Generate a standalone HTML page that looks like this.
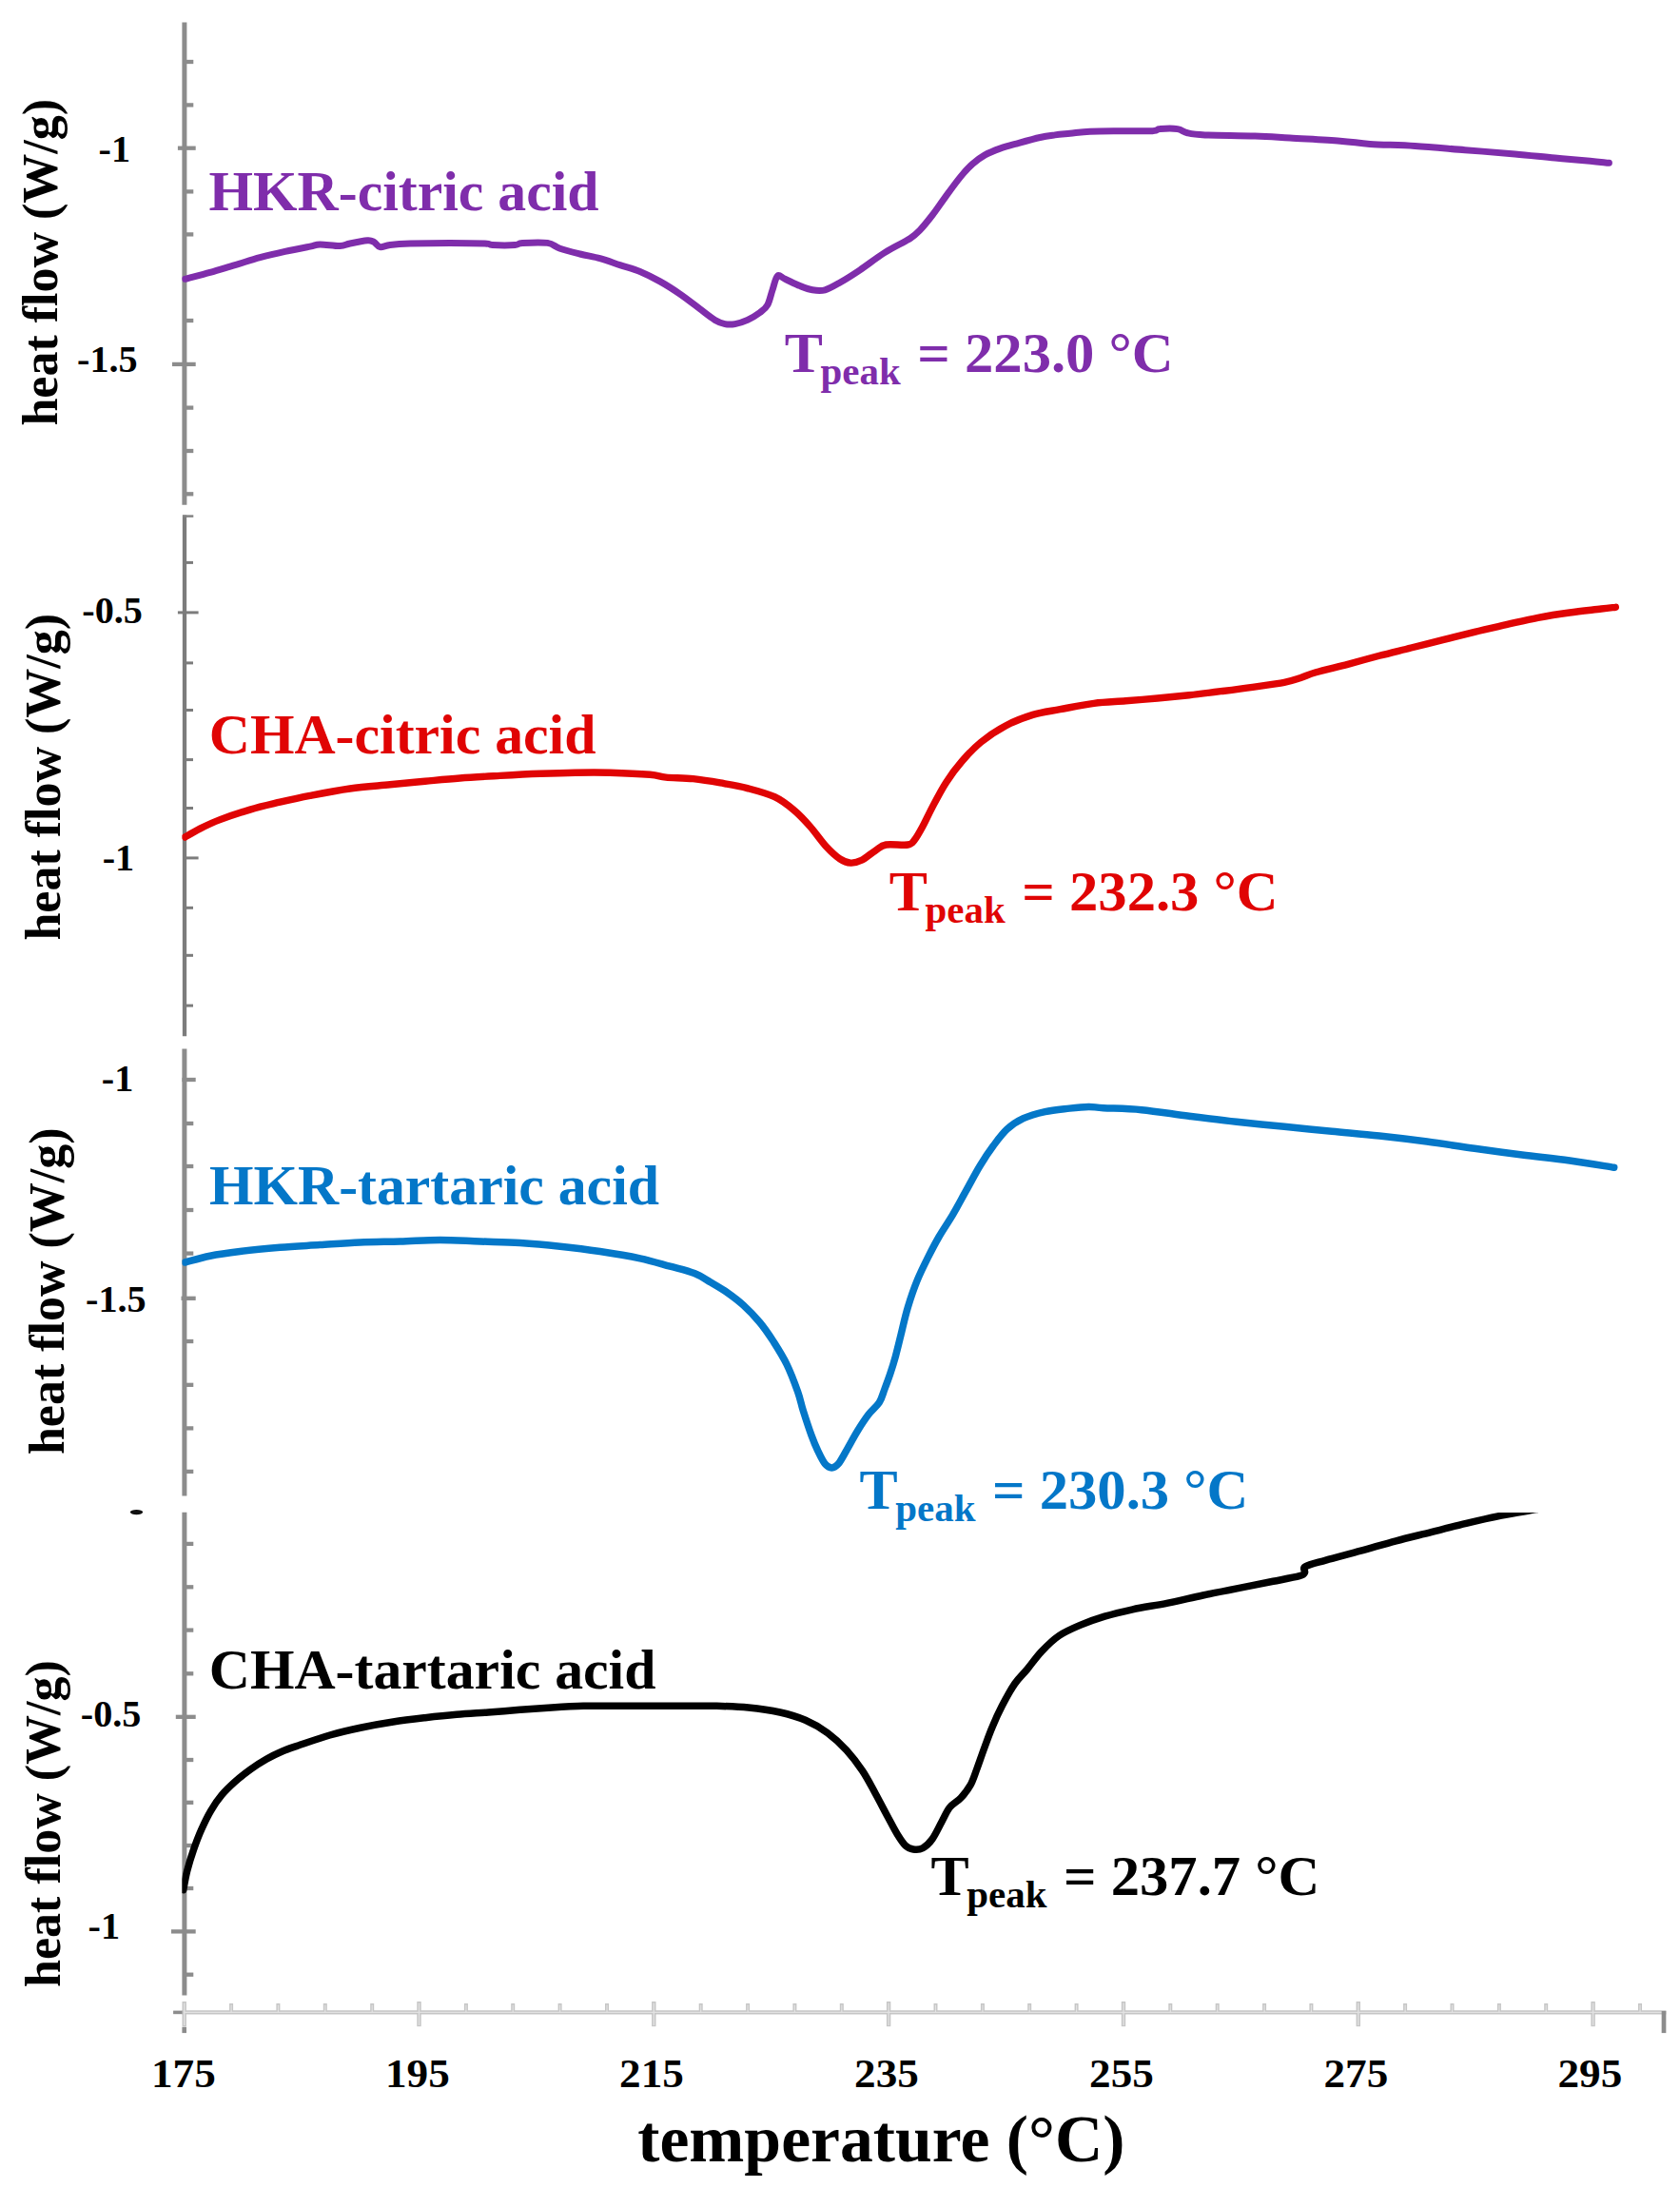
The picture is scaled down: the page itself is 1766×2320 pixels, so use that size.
<!DOCTYPE html>
<html><head><meta charset="utf-8"><title>DSC curves</title>
<style>
html,body{margin:0;padding:0;background:#fff}
svg{display:block}
text{font-family:"Liberation Serif","Times New Roman",serif;font-weight:bold}
.tk{font-size:40.2px}
.xl{font-size:41.5px}
.yl{font-size:52px}
.lb{font-size:58.2px}
.tp{font-size:58.2px}
.sub{font-size:39.6px}
</style></head><body>
<svg width="1766" height="2320" viewBox="0 0 1766 2320">
<rect width="1766" height="2320" fill="#fff"/>
<defs><clipPath id="c4"><rect x="191.4" y="1590" width="1586" height="600"/></clipPath><clipPath id="ca"><rect x="191.4" y="0" width="1586" height="2320"/></clipPath></defs>

<g stroke="#c6c6c6" fill="none">
<line x1="191.4" y1="2115.4" x2="1751.4" y2="2115.4" stroke-width="4.2"/>
<line x1="193.7" y1="2104" x2="193.7" y2="2130.2" stroke-width="4.4"/>
<line x1="243.1" y1="2106" x2="243.1" y2="2115" stroke-width="4"/>
<line x1="292.4" y1="2106" x2="292.4" y2="2115" stroke-width="4"/>
<line x1="341.8" y1="2106" x2="341.8" y2="2115" stroke-width="4"/>
<line x1="391.2" y1="2106" x2="391.2" y2="2115" stroke-width="4"/>
<line x1="440.5" y1="2104" x2="440.5" y2="2130.2" stroke-width="4.4"/>
<line x1="489.9" y1="2106" x2="489.9" y2="2115" stroke-width="4"/>
<line x1="539.2" y1="2106" x2="539.2" y2="2115" stroke-width="4"/>
<line x1="588.6" y1="2106" x2="588.6" y2="2115" stroke-width="4"/>
<line x1="638.0" y1="2106" x2="638.0" y2="2115" stroke-width="4"/>
<line x1="687.3" y1="2104" x2="687.3" y2="2130.2" stroke-width="4.4"/>
<line x1="736.7" y1="2106" x2="736.7" y2="2115" stroke-width="4"/>
<line x1="786.1" y1="2106" x2="786.1" y2="2115" stroke-width="4"/>
<line x1="835.4" y1="2106" x2="835.4" y2="2115" stroke-width="4"/>
<line x1="884.8" y1="2106" x2="884.8" y2="2115" stroke-width="4"/>
<line x1="934.1" y1="2104" x2="934.1" y2="2130.2" stroke-width="4.4"/>
<line x1="983.5" y1="2106" x2="983.5" y2="2115" stroke-width="4"/>
<line x1="1032.9" y1="2106" x2="1032.9" y2="2115" stroke-width="4"/>
<line x1="1082.2" y1="2106" x2="1082.2" y2="2115" stroke-width="4"/>
<line x1="1131.6" y1="2106" x2="1131.6" y2="2115" stroke-width="4"/>
<line x1="1181.0" y1="2104" x2="1181.0" y2="2130.2" stroke-width="4.4"/>
<line x1="1230.3" y1="2106" x2="1230.3" y2="2115" stroke-width="4"/>
<line x1="1279.7" y1="2106" x2="1279.7" y2="2115" stroke-width="4"/>
<line x1="1329.1" y1="2106" x2="1329.1" y2="2115" stroke-width="4"/>
<line x1="1378.4" y1="2106" x2="1378.4" y2="2115" stroke-width="4"/>
<line x1="1427.8" y1="2104" x2="1427.8" y2="2130.2" stroke-width="4.4"/>
<line x1="1477.1" y1="2106" x2="1477.1" y2="2115" stroke-width="4"/>
<line x1="1526.5" y1="2106" x2="1526.5" y2="2115" stroke-width="4"/>
<line x1="1575.9" y1="2106" x2="1575.9" y2="2115" stroke-width="4"/>
<line x1="1625.2" y1="2106" x2="1625.2" y2="2115" stroke-width="4"/>
<line x1="1674.6" y1="2104" x2="1674.6" y2="2130.2" stroke-width="4.4"/>
<line x1="1724.0" y1="2106" x2="1724.0" y2="2115" stroke-width="4"/>
</g>
<g stroke="#e2e2e2" fill="none">
<line x1="193" y1="2115.4" x2="1748" y2="2115.4" stroke-width="1.4"/>
<line x1="193.7" y1="2105.5" x2="193.7" y2="2129" stroke-width="1.4"/>
<line x1="243.1" y1="2107.5" x2="243.1" y2="2115" stroke-width="1.2"/>
<line x1="292.4" y1="2107.5" x2="292.4" y2="2115" stroke-width="1.2"/>
<line x1="341.8" y1="2107.5" x2="341.8" y2="2115" stroke-width="1.2"/>
<line x1="391.2" y1="2107.5" x2="391.2" y2="2115" stroke-width="1.2"/>
<line x1="440.5" y1="2105.5" x2="440.5" y2="2129" stroke-width="1.4"/>
<line x1="489.9" y1="2107.5" x2="489.9" y2="2115" stroke-width="1.2"/>
<line x1="539.2" y1="2107.5" x2="539.2" y2="2115" stroke-width="1.2"/>
<line x1="588.6" y1="2107.5" x2="588.6" y2="2115" stroke-width="1.2"/>
<line x1="638.0" y1="2107.5" x2="638.0" y2="2115" stroke-width="1.2"/>
<line x1="687.3" y1="2105.5" x2="687.3" y2="2129" stroke-width="1.4"/>
<line x1="736.7" y1="2107.5" x2="736.7" y2="2115" stroke-width="1.2"/>
<line x1="786.1" y1="2107.5" x2="786.1" y2="2115" stroke-width="1.2"/>
<line x1="835.4" y1="2107.5" x2="835.4" y2="2115" stroke-width="1.2"/>
<line x1="884.8" y1="2107.5" x2="884.8" y2="2115" stroke-width="1.2"/>
<line x1="934.1" y1="2105.5" x2="934.1" y2="2129" stroke-width="1.4"/>
<line x1="983.5" y1="2107.5" x2="983.5" y2="2115" stroke-width="1.2"/>
<line x1="1032.9" y1="2107.5" x2="1032.9" y2="2115" stroke-width="1.2"/>
<line x1="1082.2" y1="2107.5" x2="1082.2" y2="2115" stroke-width="1.2"/>
<line x1="1131.6" y1="2107.5" x2="1131.6" y2="2115" stroke-width="1.2"/>
<line x1="1181.0" y1="2105.5" x2="1181.0" y2="2129" stroke-width="1.4"/>
<line x1="1230.3" y1="2107.5" x2="1230.3" y2="2115" stroke-width="1.2"/>
<line x1="1279.7" y1="2107.5" x2="1279.7" y2="2115" stroke-width="1.2"/>
<line x1="1329.1" y1="2107.5" x2="1329.1" y2="2115" stroke-width="1.2"/>
<line x1="1378.4" y1="2107.5" x2="1378.4" y2="2115" stroke-width="1.2"/>
<line x1="1427.8" y1="2105.5" x2="1427.8" y2="2129" stroke-width="1.4"/>
<line x1="1477.1" y1="2107.5" x2="1477.1" y2="2115" stroke-width="1.2"/>
<line x1="1526.5" y1="2107.5" x2="1526.5" y2="2115" stroke-width="1.2"/>
<line x1="1575.9" y1="2107.5" x2="1575.9" y2="2115" stroke-width="1.2"/>
<line x1="1625.2" y1="2107.5" x2="1625.2" y2="2115" stroke-width="1.2"/>
<line x1="1674.6" y1="2105.5" x2="1674.6" y2="2129" stroke-width="1.4"/>
<line x1="1724.0" y1="2107.5" x2="1724.0" y2="2115" stroke-width="1.2"/>
</g>
<line x1="1749" y1="2114" x2="1749" y2="2137.1" stroke="#8c8c8c" stroke-width="4.7"/>
<line x1="182.1" y1="2115.4" x2="191.6" y2="2115.4" stroke="#8c8c8c" stroke-width="3.6"/>
<line x1="193.7" y1="2130.7" x2="193.7" y2="2137.1" stroke="#8c8c8c" stroke-width="4.6"/>
<g stroke="#8c8c8c" fill="none">
<line x1="193.9" y1="23.6" x2="193.9" y2="530.7" stroke-width="5.0"/>
<line x1="193.9" y1="65.0" x2="203.3" y2="65.0" stroke-width="4.3"/>
<line x1="193.9" y1="110.4" x2="203.3" y2="110.4" stroke-width="4.3"/>
<line x1="186.9" y1="155.7" x2="205.7" y2="155.7" stroke-width="4.3"/>
<line x1="193.9" y1="201.4" x2="203.3" y2="201.4" stroke-width="4.3"/>
<line x1="193.9" y1="246.4" x2="203.3" y2="246.4" stroke-width="4.3"/>
<line x1="193.9" y1="291.7" x2="203.3" y2="291.7" stroke-width="4.3"/>
<line x1="193.9" y1="337.0" x2="203.3" y2="337.0" stroke-width="4.3"/>
<line x1="181.0" y1="382.9" x2="205.7" y2="382.9" stroke-width="4.3"/>
<line x1="193.9" y1="428.6" x2="203.3" y2="428.6" stroke-width="4.3"/>
<line x1="193.9" y1="474.0" x2="203.3" y2="474.0" stroke-width="4.3"/>
<line x1="193.9" y1="519.3" x2="203.3" y2="519.3" stroke-width="4.3"/>
</g>
<g stroke="#7c7c7c" fill="none">
<line x1="194.0" y1="541.4" x2="194.0" y2="1089.3" stroke-width="4.3"/>
<line x1="194.0" y1="591.4" x2="203.0" y2="591.4" stroke-width="3.0"/>
<line x1="186.9" y1="643.9" x2="208.6" y2="643.9" stroke-width="3.0"/>
<line x1="194.0" y1="696.9" x2="203.0" y2="696.9" stroke-width="3.0"/>
<line x1="194.0" y1="746.5" x2="203.0" y2="746.5" stroke-width="3.0"/>
<line x1="194.0" y1="798.6" x2="203.0" y2="798.6" stroke-width="3.0"/>
<line x1="194.0" y1="849.5" x2="203.0" y2="849.5" stroke-width="3.0"/>
<line x1="192.0" y1="901.9" x2="208.6" y2="901.9" stroke-width="3.0"/>
<line x1="194.0" y1="954.3" x2="203.0" y2="954.3" stroke-width="3.0"/>
<line x1="194.0" y1="1004.3" x2="203.0" y2="1004.3" stroke-width="3.0"/>
<line x1="194.0" y1="1057.1" x2="203.0" y2="1057.1" stroke-width="3.0"/>
</g>
<line x1="192" y1="542.6" x2="203.3" y2="542.6" stroke="#828282" stroke-width="2.5"/>
<g stroke="#8c8c8c" fill="none">
<line x1="193.9" y1="1102.6" x2="193.9" y2="1572.6" stroke-width="5.0"/>
<line x1="191.4" y1="1135.0" x2="205.7" y2="1135.0" stroke-width="4.3"/>
<line x1="193.9" y1="1181.0" x2="203.3" y2="1181.0" stroke-width="4.3"/>
<line x1="193.9" y1="1226.0" x2="203.3" y2="1226.0" stroke-width="4.3"/>
<line x1="193.9" y1="1272.0" x2="203.3" y2="1272.0" stroke-width="4.3"/>
<line x1="193.9" y1="1317.6" x2="203.3" y2="1317.6" stroke-width="4.3"/>
<line x1="190.5" y1="1364.8" x2="205.7" y2="1364.8" stroke-width="4.3"/>
<line x1="193.9" y1="1410.0" x2="203.3" y2="1410.0" stroke-width="4.3"/>
<line x1="193.9" y1="1455.8" x2="203.3" y2="1455.8" stroke-width="4.3"/>
<line x1="193.9" y1="1501.4" x2="203.3" y2="1501.4" stroke-width="4.3"/>
<line x1="193.9" y1="1546.9" x2="203.3" y2="1546.9" stroke-width="4.3"/>
</g>
<g stroke="#8c8c8c" fill="none">
<line x1="193.9" y1="1589.7" x2="193.9" y2="2097.4" stroke-width="5.0"/>
<line x1="193.9" y1="1622.9" x2="203.3" y2="1622.9" stroke-width="4.3"/>
<line x1="193.9" y1="1668.3" x2="203.3" y2="1668.3" stroke-width="4.3"/>
<line x1="193.9" y1="1713.6" x2="203.3" y2="1713.6" stroke-width="4.3"/>
<line x1="193.9" y1="1759.3" x2="203.3" y2="1759.3" stroke-width="4.3"/>
<line x1="184.8" y1="1804.8" x2="205.7" y2="1804.8" stroke-width="4.3"/>
<line x1="193.9" y1="1850.0" x2="203.3" y2="1850.0" stroke-width="4.3"/>
<line x1="193.9" y1="1894.8" x2="203.3" y2="1894.8" stroke-width="4.3"/>
<line x1="193.9" y1="1940.0" x2="203.3" y2="1940.0" stroke-width="4.3"/>
<line x1="193.9" y1="1985.0" x2="203.3" y2="1985.0" stroke-width="4.3"/>
<line x1="180.0" y1="2030.4" x2="205.7" y2="2030.4" stroke-width="4.3"/>
<line x1="193.9" y1="2075.7" x2="203.3" y2="2075.7" stroke-width="4.3"/>
</g>
<ellipse cx="143.5" cy="1589.6" rx="6.6" ry="2.6" fill="#111"/>
<path d="M194.5,293.3 C198.9,292.1 212.1,288.8 220.8,286.4 C229.6,283.9 238.2,281.2 247.0,278.6 C255.8,276.0 264.5,273.1 273.3,270.7 C282.1,268.3 290.8,266.3 299.6,264.4 C308.4,262.5 319.8,260.3 325.9,259.1 C332.0,257.9 331.1,257.1 336.4,257.0 C341.6,256.9 352.1,258.8 357.4,258.6 C362.6,258.4 363.1,257.0 367.9,256.0 C372.7,255.0 382.1,253.1 386.3,252.8 C390.5,252.5 390.9,253.3 393.1,254.4 C395.3,255.5 396.7,259.1 399.5,259.6 C402.3,260.1 404.8,258.1 410.0,257.5 C415.2,256.9 420.5,256.4 431.0,256.0 C441.5,255.7 459.9,255.4 473.0,255.4 C486.1,255.4 502.4,255.7 509.8,256.0 C517.2,256.4 512.4,257.2 517.7,257.5 C523.0,257.8 536.1,257.9 541.4,257.5 C546.6,257.1 543.5,255.8 549.2,255.4 C554.9,255.1 568.9,254.4 575.5,255.4 C582.1,256.4 583.0,259.3 588.7,261.2 C594.4,263.1 602.7,265.2 609.7,267.0 C616.7,268.8 623.7,269.8 630.7,271.7 C637.7,273.6 644.7,276.3 651.7,278.6 C658.7,280.9 665.8,282.5 672.8,285.4 C679.8,288.3 686.8,291.9 693.8,295.9 C700.8,299.8 707.8,304.3 714.8,309.1 C721.8,313.9 729.7,320.2 735.8,324.8 C741.9,329.4 747.2,333.8 751.6,336.4 C756.0,339.0 758.6,339.9 762.1,340.6 C765.6,341.3 768.7,341.3 772.6,340.6 C776.5,339.9 781.4,338.4 785.8,336.4 C790.2,334.4 795.4,331.1 798.9,328.5 C802.4,325.9 804.6,324.6 806.8,320.6 C809.0,316.7 810.2,309.9 812.0,304.8 C813.8,299.7 815.1,292.0 817.3,290.1 C819.5,288.2 821.2,291.6 825.2,293.3 C829.2,295.1 836.2,298.7 841.0,300.6 C845.8,302.5 849.7,304.1 854.1,304.8 C858.5,305.5 862.4,306.1 867.2,304.8 C872.0,303.5 876.9,300.5 883.0,297.0 C889.1,293.5 896.1,289.1 904.0,283.8 C911.9,278.5 921.5,270.9 930.3,265.4 C939.1,259.9 950.5,254.6 956.6,250.7 C962.7,246.8 963.2,245.9 967.1,241.8 C971.0,237.7 975.8,231.7 980.2,226.0 C984.6,220.3 988.6,214.2 993.4,207.6 C998.2,201.0 1004.3,192.5 1009.1,186.6 C1013.9,180.7 1017.9,176.3 1022.3,172.4 C1026.7,168.5 1030.6,165.6 1035.4,162.9 C1040.2,160.2 1045.9,158.0 1051.2,156.1 C1056.5,154.2 1060.0,153.3 1067.0,151.4 C1074.0,149.5 1086.2,146.1 1093.2,144.5 C1100.2,142.9 1103.7,142.6 1109.0,141.9 C1114.3,141.2 1118.7,140.9 1124.8,140.3 C1130.9,139.7 1137.0,138.6 1145.8,138.2 C1154.5,137.8 1166.3,137.8 1177.3,137.7 C1188.2,137.6 1204.5,138.0 1211.5,137.7 C1218.5,137.3 1215.0,135.9 1219.4,135.6 C1223.8,135.2 1233.0,134.9 1237.8,135.6 C1242.6,136.3 1243.5,138.8 1248.3,139.8 C1253.1,140.9 1254.9,141.4 1266.7,141.9 C1278.5,142.4 1304.3,142.5 1319.2,143.0 C1334.1,143.5 1341.1,144.2 1356.0,145.1 C1370.9,146.0 1394.6,147.1 1408.6,148.2 C1422.6,149.2 1427.0,150.5 1440.1,151.4 C1453.2,152.3 1470.8,152.4 1487.4,153.5 C1504.1,154.6 1522.5,156.3 1540.0,157.7 C1557.5,159.1 1576.8,160.5 1592.6,161.9 C1608.4,163.3 1621.5,164.9 1634.6,166.1 C1647.7,167.3 1661.9,168.3 1671.4,169.2 C1680.9,170.1 1688.1,171.0 1691.4,171.3" fill="none" stroke="#7f2dab" stroke-width="7.0" stroke-linecap="round" stroke-linejoin="round" clip-path="url(#ca)"/>
<path d="M194.5,880.0 C197.1,878.5 204.1,874.2 210.2,871.1 C216.3,868.0 222.5,864.9 231.3,861.6 C240.1,858.3 252.3,854.2 262.8,851.1 C273.3,848.0 283.8,845.7 294.3,843.2 C304.8,840.8 313.6,838.8 325.9,836.4 C338.2,834.0 353.9,830.9 367.9,829.0 C381.9,827.1 396.9,826.1 410.0,824.8 C423.1,823.5 434.6,822.3 446.8,821.2 C459.1,820.1 470.4,819.0 483.5,818.0 C496.6,817.0 511.6,816.2 525.6,815.4 C539.6,814.6 554.5,813.8 567.6,813.3 C580.7,812.8 592.1,812.4 604.4,812.2 C616.7,812.0 628.1,811.9 641.2,812.2 C654.4,812.6 673.5,813.5 683.3,814.3 C693.1,815.1 692.5,816.4 700.0,817.1 C707.5,817.8 719.1,817.6 728.6,818.6 C738.1,819.6 747.6,821.2 757.1,822.9 C766.6,824.6 776.2,826.1 785.7,828.6 C795.2,831.1 806.2,833.9 814.3,837.7 C822.4,841.5 828.1,846.2 834.3,851.4 C840.5,856.5 845.7,862.2 851.4,868.6 C857.1,875.0 863.4,884.3 868.6,890.0 C873.9,895.7 878.6,900.0 882.9,902.9 C887.2,905.8 890.5,906.9 894.3,907.1 C898.1,907.3 901.4,906.4 905.7,904.3 C910.0,902.2 915.7,897.0 920.0,894.3 C924.3,891.6 925.7,889.0 931.4,888.0 C937.1,887.0 949.3,888.9 954.3,888.0 C959.3,887.1 958.8,886.1 961.4,882.9 C964.0,879.7 966.9,874.3 970.0,868.6 C973.1,862.9 976.0,856.2 980.0,848.6 C984.0,841.0 989.1,831.0 994.3,822.9 C999.5,814.8 1005.2,807.1 1011.4,800.0 C1017.6,792.9 1023.8,786.2 1031.4,780.0 C1039.0,773.8 1048.0,767.7 1057.1,762.9 C1066.1,758.1 1076.2,754.3 1085.7,751.4 C1095.2,748.5 1103.6,747.7 1114.3,745.7 C1125.0,743.7 1138.5,740.8 1150.0,739.3 C1161.5,737.8 1172.2,737.6 1183.3,736.7 C1194.4,735.8 1205.6,735.0 1216.7,734.0 C1227.8,733.0 1238.9,731.9 1250.0,730.7 C1261.1,729.5 1272.2,728.1 1283.3,726.7 C1294.4,725.3 1305.6,723.9 1316.7,722.3 C1327.8,720.7 1341.7,718.9 1350.0,717.3 C1358.3,715.7 1361.2,714.5 1366.7,712.7 C1372.2,710.9 1375.0,709.1 1383.3,706.7 C1391.6,704.3 1405.6,701.2 1416.7,698.3 C1427.8,695.4 1438.9,692.2 1450.0,689.3 C1461.1,686.4 1472.2,683.8 1483.3,681.0 C1494.4,678.2 1505.6,675.5 1516.7,672.7 C1527.8,669.9 1538.9,667.0 1550.0,664.3 C1561.1,661.6 1572.2,659.2 1583.3,656.7 C1594.4,654.2 1605.6,651.4 1616.7,649.3 C1627.8,647.2 1638.9,645.5 1650.0,644.0 C1661.1,642.5 1675.2,641.0 1683.3,640.0 C1691.3,639.0 1695.8,638.6 1698.3,638.3" fill="none" stroke="#e00404" stroke-width="7.4" stroke-linecap="round" stroke-linejoin="round" clip-path="url(#ca)"/>
<path d="M194.5,1327.0 C198.9,1325.9 211.2,1322.1 220.8,1320.2 C230.4,1318.3 240.1,1317.0 252.3,1315.5 C264.6,1314.0 280.3,1312.5 294.3,1311.3 C308.3,1310.1 322.4,1309.5 336.4,1308.6 C350.4,1307.7 364.4,1306.6 378.4,1306.0 C392.4,1305.4 406.5,1305.4 420.5,1305.0 C434.5,1304.6 448.5,1303.4 462.5,1303.4 C476.5,1303.4 490.6,1304.5 504.6,1305.0 C518.6,1305.5 532.6,1305.6 546.6,1306.5 C560.6,1307.4 574.7,1308.7 588.7,1310.2 C602.7,1311.7 616.7,1313.4 630.7,1315.5 C644.7,1317.6 660.5,1320.2 672.8,1322.8 C685.1,1325.4 694.8,1328.6 704.3,1331.2 C713.8,1333.8 722.9,1335.8 730.0,1338.6 C737.1,1341.4 741.4,1344.7 747.1,1348.0 C752.8,1351.3 758.6,1354.6 764.3,1358.6 C770.0,1362.6 775.7,1366.8 781.4,1372.0 C787.1,1377.2 793.4,1383.7 798.6,1390.0 C803.9,1396.3 808.1,1402.6 812.9,1410.0 C817.6,1417.4 822.8,1425.5 827.1,1434.3 C831.4,1443.1 835.7,1454.8 838.6,1462.9 C841.5,1471.0 841.9,1475.3 844.3,1482.9 C846.7,1490.5 850.3,1501.5 852.9,1508.6 C855.5,1515.7 857.6,1520.7 860.0,1525.7 C862.4,1530.7 864.7,1535.7 867.1,1538.6 C869.5,1541.5 871.9,1542.9 874.3,1542.9 C876.7,1542.9 878.8,1541.7 881.4,1538.6 C884.0,1535.5 886.7,1530.0 890.0,1524.3 C893.3,1518.6 897.6,1510.5 901.4,1504.3 C905.2,1498.1 909.1,1492.1 912.9,1487.1 C916.7,1482.1 921.4,1478.8 924.3,1474.3 C927.1,1469.8 928.1,1465.0 930.0,1460.0 C931.9,1455.0 933.8,1450.0 935.7,1444.3 C937.6,1438.6 939.5,1432.6 941.4,1425.7 C943.3,1418.8 945.0,1411.5 947.1,1402.9 C949.2,1394.3 951.4,1383.8 954.3,1374.3 C957.2,1364.8 960.7,1354.5 964.3,1345.7 C967.9,1336.9 971.9,1329.0 975.7,1321.4 C979.5,1313.8 982.8,1307.4 987.1,1300.0 C991.4,1292.6 996.6,1285.2 1001.4,1277.1 C1006.2,1269.0 1010.9,1260.0 1015.7,1251.4 C1020.5,1242.8 1025.2,1233.6 1030.0,1225.7 C1034.8,1217.8 1039.5,1210.7 1044.3,1204.3 C1049.1,1197.9 1053.4,1191.9 1058.6,1187.1 C1063.8,1182.3 1069.0,1178.8 1075.7,1175.7 C1082.4,1172.6 1090.5,1170.4 1098.6,1168.6 C1106.7,1166.8 1116.7,1166.0 1124.3,1165.1 C1131.9,1164.2 1138.3,1163.5 1144.3,1163.4 C1150.2,1163.3 1150.7,1164.2 1160.0,1164.7 C1169.3,1165.2 1185.0,1165.3 1200.0,1166.7 C1215.0,1168.1 1233.3,1171.2 1250.0,1173.3 C1266.7,1175.4 1283.3,1177.5 1300.0,1179.3 C1316.7,1181.1 1333.3,1182.6 1350.0,1184.3 C1366.7,1186.0 1383.3,1187.7 1400.0,1189.3 C1416.7,1190.9 1433.3,1192.2 1450.0,1194.0 C1466.7,1195.8 1483.3,1197.8 1500.0,1200.0 C1516.7,1202.2 1533.3,1205.0 1550.0,1207.3 C1566.7,1209.6 1583.3,1211.9 1600.0,1214.0 C1616.7,1216.1 1633.9,1217.8 1650.0,1220.0 C1666.1,1222.2 1688.9,1226.1 1696.7,1227.3" fill="none" stroke="#0477c8" stroke-width="7.5" stroke-linecap="round" stroke-linejoin="round" clip-path="url(#ca)"/>
<path d="M192.7,1986.7 C193.4,1983.4 194.9,1973.7 196.7,1966.7 C198.5,1959.8 200.8,1952.2 203.3,1945.0 C205.8,1937.8 208.6,1930.2 211.7,1923.3 C214.8,1916.3 218.1,1909.4 221.7,1903.3 C225.3,1897.2 229.1,1891.7 233.3,1886.7 C237.5,1881.7 241.7,1877.8 246.7,1873.3 C251.7,1868.8 257.8,1864.0 263.3,1860.0 C268.9,1856.0 274.4,1852.5 280.0,1849.3 C285.6,1846.1 291.1,1843.4 296.7,1841.0 C302.2,1838.6 305.0,1837.8 313.3,1835.0 C321.6,1832.2 335.6,1827.2 346.7,1824.0 C357.8,1820.8 368.9,1818.3 380.0,1816.0 C391.1,1813.7 402.2,1811.7 413.3,1810.0 C424.4,1808.3 435.6,1807.0 446.7,1805.7 C457.8,1804.4 468.9,1803.2 480.0,1802.3 C491.1,1801.3 502.2,1800.8 513.3,1800.0 C524.4,1799.2 535.6,1798.1 546.7,1797.3 C557.8,1796.5 568.9,1795.7 580.0,1795.0 C591.1,1794.3 602.2,1793.6 613.3,1793.3 C624.4,1793.0 635.6,1793.3 646.7,1793.3 C657.8,1793.3 667.8,1793.3 680.0,1793.3 C692.2,1793.3 707.8,1793.3 720.0,1793.3 C732.2,1793.3 742.2,1793.0 753.3,1793.3 C764.4,1793.6 775.6,1793.9 786.7,1795.0 C797.8,1796.1 810.0,1797.8 820.0,1800.0 C830.0,1802.2 838.4,1804.7 846.7,1808.3 C855.0,1811.9 862.8,1816.4 870.0,1821.7 C877.2,1827.0 883.9,1833.3 890.0,1840.0 C896.1,1846.7 901.7,1854.2 906.7,1861.7 C911.7,1869.2 915.6,1877.0 920.0,1885.0 C924.4,1893.0 929.4,1902.8 933.3,1910.0 C937.2,1917.2 940.2,1923.3 943.3,1928.3 C946.4,1933.3 948.9,1937.4 951.7,1940.0 C954.5,1942.6 957.0,1943.5 960.0,1944.0 C963.0,1944.5 966.7,1944.5 970.0,1942.7 C973.3,1940.9 976.7,1937.9 980.0,1933.3 C983.3,1928.7 987.0,1920.5 990.0,1915.0 C993.0,1909.5 995.0,1904.2 998.3,1900.0 C1001.6,1895.8 1006.4,1893.9 1010.0,1890.0 C1013.6,1886.1 1017.2,1881.7 1020.0,1876.7 C1022.8,1871.7 1024.2,1866.7 1026.7,1860.0 C1029.2,1853.3 1032.2,1844.2 1035.0,1836.7 C1037.8,1829.2 1040.2,1822.2 1043.3,1815.0 C1046.3,1807.8 1049.4,1800.8 1053.3,1793.3 C1057.2,1785.8 1062.2,1776.5 1066.7,1770.0 C1071.2,1763.5 1075.3,1760.2 1080.0,1754.5 C1084.7,1748.8 1089.3,1741.9 1094.8,1736.1 C1100.3,1730.3 1106.4,1724.1 1113.2,1719.5 C1120.0,1714.9 1127.4,1711.8 1135.4,1708.4 C1143.4,1705.0 1152.0,1702.0 1161.2,1699.2 C1170.4,1696.4 1179.6,1694.2 1190.7,1691.8 C1201.8,1689.4 1215.3,1687.6 1227.6,1685.1 C1239.9,1682.6 1252.2,1679.6 1264.5,1677.0 C1276.8,1674.4 1289.1,1672.0 1301.4,1669.6 C1313.7,1667.1 1327.5,1664.4 1338.3,1662.3 C1349.1,1660.2 1360.5,1658.2 1366.0,1656.7 C1371.5,1655.2 1370.5,1654.7 1371.5,1653.0 C1372.5,1651.3 1368.6,1649.0 1372.3,1646.8 C1376.0,1644.6 1384.0,1642.9 1393.7,1640.1 C1403.4,1637.3 1418.3,1633.6 1430.6,1630.2 C1442.9,1626.8 1455.2,1623.1 1467.5,1619.8 C1479.8,1616.5 1492.1,1613.7 1504.4,1610.6 C1516.7,1607.5 1529.0,1604.3 1541.3,1601.4 C1553.6,1598.5 1565.9,1595.7 1578.2,1593.2 C1590.5,1590.7 1605.9,1588.3 1615.1,1586.6 C1624.3,1584.9 1630.5,1583.5 1633.6,1582.9" fill="none" stroke="#000" stroke-width="7.5" stroke-linecap="round" stroke-linejoin="round" clip-path="url(#c4)"/>
<text class="yl" transform="translate(59.5,447.6) rotate(-90)">heat flow (W/g)</text>
<text class="yl" transform="translate(62.7,988.6) rotate(-90)">heat flow (W/g)</text>
<text class="yl" transform="translate(66.5,1529.1) rotate(-90)">heat flow (W/g)</text>
<text class="yl" transform="translate(62.7,2088.9) rotate(-90)">heat flow (W/g)</text>
<text class="tk" x="103.5" y="170.0">-1</text>
<text class="tk" x="81.0" y="390.5">-1.5</text>
<text class="tk" x="86.3" y="655.0">-0.5</text>
<text class="tk" x="107.7" y="914.8">-1</text>
<text class="tk" x="106.8" y="1147.4">-1</text>
<text class="tk" x="90.0" y="1379.2">-1.5</text>
<text class="tk" x="84.8" y="1814.5">-0.5</text>
<text class="tk" x="92.5" y="2038.0">-1</text>
<text class="lb" transform="translate(219.6,220.6) scale(1.027,1)" fill="#7f2dab">HKR-citric acid</text>
<text class="lb" transform="translate(219.8,792.1) scale(1.027,1)" fill="#e00404">CHA-citric acid</text>
<text class="lb" transform="translate(220.0,1265.6) scale(1.027,1)" fill="#0477c8">HKR-tartaric acid</text>
<text class="lb" transform="translate(219.8,1774.6) scale(1.027,1)" fill="#000">CHA-tartaric acid</text>
<g fill="#7f2dab">
<text class="tp" transform="translate(824.7,390.8) scale(1.035,1)">T</text>
<text class="sub" transform="translate(862.5,403.9) scale(1.035,1)">peak</text>
<text class="tp" transform="translate(964.3,390.8) scale(1.042,1)">= 223.0 °C</text>
</g>
<g fill="#e00404">
<text class="tp" transform="translate(934.7,956.8) scale(1.035,1)">T</text>
<text class="sub" transform="translate(972.5,969.9) scale(1.035,1)">peak</text>
<text class="tp" transform="translate(1074.3,956.8) scale(1.042,1)">= 232.3 °C</text>
</g>
<g fill="#0477c8">
<text class="tp" transform="translate(903.4,1586.2) scale(1.035,1)">T</text>
<text class="sub" transform="translate(941.2,1599.3) scale(1.035,1)">peak</text>
<text class="tp" transform="translate(1043.0,1586.2) scale(1.042,1)">= 230.3 °C</text>
</g>
<g fill="#000">
<text class="tp" transform="translate(978.4,1992.2) scale(1.035,1)">T</text>
<text class="sub" transform="translate(1016.2,2005.3) scale(1.035,1)">peak</text>
<text class="tp" transform="translate(1118.0,1992.2) scale(1.042,1)">= 237.7 °C</text>
</g>
<text class="xl" text-anchor="middle" transform="translate(192.9,2193.6) scale(1.09,1)">175</text>
<text class="xl" text-anchor="middle" transform="translate(438.9,2193.6) scale(1.09,1)">195</text>
<text class="xl" text-anchor="middle" transform="translate(685.0,2193.6) scale(1.09,1)">215</text>
<text class="xl" text-anchor="middle" transform="translate(932.0,2193.6) scale(1.09,1)">235</text>
<text class="xl" text-anchor="middle" transform="translate(1179.0,2193.6) scale(1.09,1)">255</text>
<text class="xl" text-anchor="middle" transform="translate(1425.4,2193.6) scale(1.09,1)">275</text>
<text class="xl" text-anchor="middle" transform="translate(1671.4,2193.6) scale(1.09,1)">295</text>
<text id="xt" x="670.2" y="2271.7" style="font-size:69.7px">temperature (°C)</text>
</svg></body></html>
